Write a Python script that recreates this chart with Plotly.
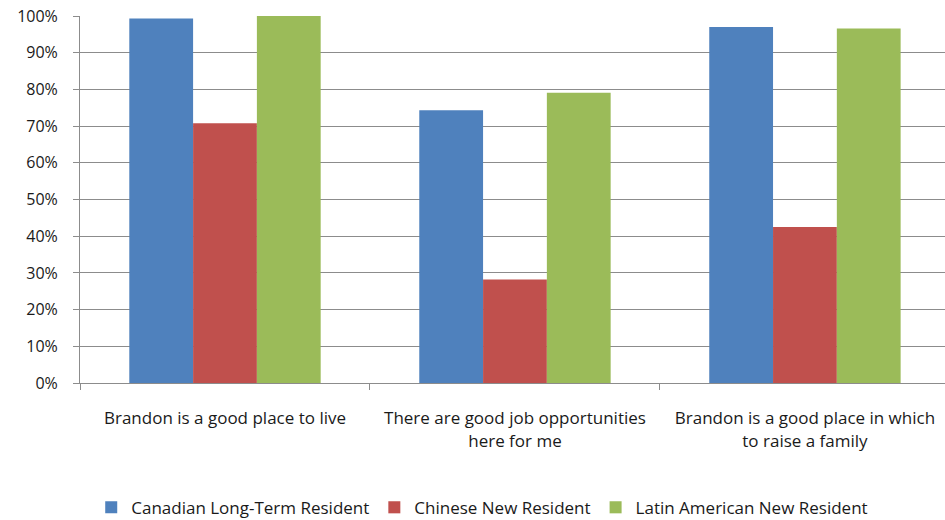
import plotly.graph_objects as go

# Survey statements (category axis)
statements = [
    "Brandon is a good place to live",
    "There are good job opportunities<br>here for me",
    "Brandon is a good place in which<br>to raise a family",
]

# Share agreeing, by respondent group (fraction of 1)
canadian_long_term = [0.993, 0.743, 0.970]
chinese_new = [0.708, 0.282, 0.425]
latin_american_new = [1.000, 0.791, 0.966]

series_names = [
    "Canadian Long-Term Resident",
    "Chinese New Resident",
    "Latin American New Resident",
]
series_colors = ["#4F81BD", "#C0504D", "#9BBB59"]

y_ticks = [i / 10 for i in range(11)]
y_tick_labels = [f"{i * 10}%" for i in range(11)]

font_family = "'Open Sans', Lato, sans-serif"
text_color = "#1a1a1a"
axis_gray = "#8c8c8c"

fig = go.Figure()
for name, values, color in zip(
    series_names, [canadian_long_term, chinese_new, latin_american_new], series_colors
):
    fig.add_trace(
        go.Bar(
            x=statements,
            y=values,
            name=name,
            marker=dict(color=color, line=dict(width=0)),
        )
    )

fig.update_layout(
    width=945,
    height=520,
    margin=dict(l=80, r=0, t=16, b=137, autoexpand=False),
    paper_bgcolor="white",
    plot_bgcolor="white",
    barmode="group",
    bargap=0.34,
    bargroupgap=0,
    font=dict(family=font_family, size=17, color=text_color),
    showlegend=True,
    legend=dict(
        orientation="h",
        x=0.465,
        xanchor="center",
        y=-0.34,
        yanchor="middle",
        font=dict(size=17, color=text_color),
        itemwidth=30,
        traceorder="normal",
    ),
)

fig.update_xaxes(
    type="category",
    range=[-0.5, 2.483],
    automargin=False,
    tickangle=0,
    tickson="boundaries",
    ticks="outside",
    ticklen=6,
    tickcolor=axis_gray,
    ticklabelstandoff=20,
    showline=True,
    linecolor=axis_gray,
    linewidth=1,
    showgrid=False,
    zeroline=False,
    tickfont=dict(size=17),
)

fig.update_yaxes(
    range=[0, 1],
    automargin=False,
    tickmode="array",
    tickvals=y_ticks,
    ticktext=y_tick_labels,
    ticks="outside",
    ticklen=6,
    tickcolor=axis_gray,
    ticklabelstandoff=12,
    showline=True,
    linecolor=axis_gray,
    linewidth=1,
    showgrid=True,
    gridcolor=axis_gray,
    gridwidth=1,
    zeroline=False,
    tickfont=dict(size=16),
)

fig.write_html("out.html")
